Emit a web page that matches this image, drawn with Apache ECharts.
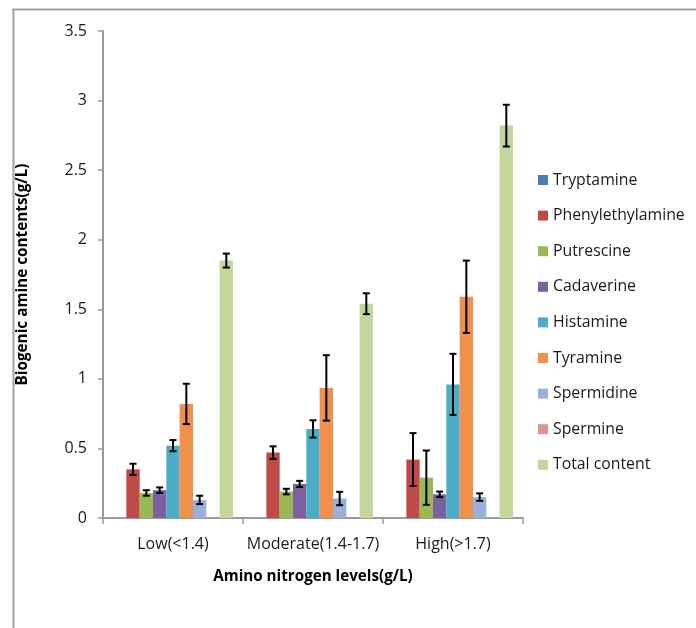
<!DOCTYPE html>
<html>
<head>
<meta charset="utf-8">
<script src="https://cdn.jsdelivr.net/npm/echarts@6/dist/echarts.min.js"></script>
<style>html,body{margin:0;padding:0;background:#fff;}#c{width:696px;height:628px;}</style>
</head>
<body>
<div id="c"></div>
<script>
const categories = ['Low(<1.4)', 'Moderate(1.4-1.7)', 'High(>1.7)'];
const seriesNames = ['Tryptamine', 'Phenylethylamine', 'Putrescine', 'Cadaverine', 'Histamine', 'Tyramine', 'Spermidine', 'Spermine', 'Total content'];
const tryptamine = [0, 0, 0];
const phenylethylamine = [0.35, 0.47, 0.42];
const putrescine = [0.18, 0.19, 0.29];
const cadaverine = [0.20, 0.245, 0.17];
const histamine = [0.52, 0.64, 0.96];
const tyramine = [0.82, 0.935, 1.59];
const spermidine = [0.13, 0.14, 0.15];
const spermine = [0, 0, 0];
const totalContent = [1.85, 1.54, 2.82];
const tryptamineErr = [null, null, null];
const phenylethylamineErr = [0.04, 0.045, 0.19];
const putrescineErr = [0.02, 0.02, 0.195];
const cadaverineErr = [0.02, 0.022, 0.02];
const histamineErr = [0.04, 0.062, 0.22];
const tyramineErr = [0.145, 0.235, 0.26];
const spermidineErr = [0.03, 0.048, 0.027];
const spermineErr = [null, null, null];
const totalContentErr = [0.05, 0.075, 0.15];
const yTicks = [0, 0.5, 1, 1.5, 2, 2.5, 3, 3.5];

const values = [tryptamine, phenylethylamine, putrescine, cadaverine, histamine, tyramine, spermidine, spermine, totalContent];
const errors = [tryptamineErr, phenylethylamineErr, putrescineErr, cadaverineErr, histamineErr, tyramineErr, spermidineErr, spermineErr, totalContentErr];
const colors = ['#4A7EBB', '#BE4B48', '#98B954', '#7D60A0', '#4AACC5', '#F0904A', '#98B1DA', '#D99694', '#C3D69B'];

const BAR_W = 13.33;
const FONT = '"Open Sans", "Noto Sans", sans-serif';

const barSeries = seriesNames.map((n, i) => ({
  name: n,
  type: 'bar',
  data: values[i],
  barWidth: BAR_W,
  barGap: '0%',
  itemStyle: { color: colors[i] },
  emphasis: { disabled: true },
  silent: true
}));

const errData = [];
errors.forEach((arr, si) => {
  arr.forEach((e, ci) => {
    if (e !== null) errData.push([ci, values[si][ci], e, si]);
  });
});

const errSeries = {
  type: 'custom',
  name: 'err',
  silent: true,
  z: 10,
  data: errData,
  renderItem: function (params, api) {
    const ci = api.value(0), v = api.value(1), e = api.value(2), si = api.value(3);
    const off = (si - (seriesNames.length - 1) / 2) * BAR_W;
    const hi = api.coord([ci, v + e]);
    const lo = api.coord([ci, v - e]);
    const x = hi[0] + off;
    const cap = 3.5;
    const st = { stroke: '#000', lineWidth: 2 };
    return {
      type: 'group',
      children: [
        { type: 'line', shape: { x1: x, y1: hi[1], x2: x, y2: lo[1] }, style: st },
        { type: 'line', shape: { x1: x - cap, y1: hi[1], x2: x + cap, y2: hi[1] }, style: st },
        { type: 'line', shape: { x1: x - cap, y1: lo[1], x2: x + cap, y2: lo[1] }, style: st }
      ]
    };
  }
};

const chart = echarts.init(document.getElementById('c'), null, { renderer: 'canvas' });
chart.setOption({
  animation: false,
  backgroundColor: '#fff',
  grid: { left: 103, right: 173, top: 31, bottom: 110, containLabel: false },
  legend: {
    orient: 'vertical',
    left: 538,
    top: 172,
    padding: 0,
    itemWidth: 10,
    itemHeight: 10,
    itemGap: 19.6,
    icon: 'rect',
    data: seriesNames,
    textStyle: { fontFamily: FONT, fontSize: 15.8, color: '#1a1a1a', lineHeight: 16 },
    selectedMode: false
  },
  xAxis: {
    type: 'category',
    data: categories,
    axisLine: { lineStyle: { color: '#9a9a9a', width: 2 } },
    axisTick: { show: true, length: 6, lineStyle: { color: '#9a9a9a', width: 1.5 } },
    axisLabel: { interval: 0, fontFamily: FONT, fontSize: 16, color: '#1a1a1a', margin: 18 },
    name: 'Amino nitrogen levels(g/L)',
    nameLocation: 'middle',
    nameGap: 51,
    nameTextStyle: { fontFamily: FONT, fontSize: 15.2, fontWeight: 'bold', color: '#000' }
  },
  yAxis: {
    type: 'value',
    min: 0,
    max: 3.5,
    interval: 0.5,
    splitLine: { show: false },
    axisLine: { show: true, lineStyle: { color: '#9a9a9a', width: 2 } },
    axisTick: { show: true, length: 5, lineStyle: { color: '#9a9a9a', width: 1.5 } },
    axisLabel: { fontFamily: FONT, fontSize: 16, color: '#1a1a1a', margin: 16,
      formatter: v => (yTicks.indexOf(v) >= 0 ? String(v) : '') },
    name: 'Biogenic amine contents(g/L)',
    nameLocation: 'middle',
    nameGap: 73,
    nameRotate: 90,
    nameTextStyle: { fontFamily: FONT, fontSize: 15.3, fontWeight: 'bold', color: '#000' }
  },
  graphic: [
    { type: 'line', shape: { x1: 12, y1: 9.5, x2: 696, y2: 9.5 }, style: { stroke: '#a0a0a0', lineWidth: 2 }, silent: true },
    { type: 'line', shape: { x1: 13.5, y1: 9, x2: 13.5, y2: 628 }, style: { stroke: '#a0a0a0', lineWidth: 2 }, silent: true }
  ],
  series: barSeries.concat([errSeries])
});
</script>
</body>
</html>
